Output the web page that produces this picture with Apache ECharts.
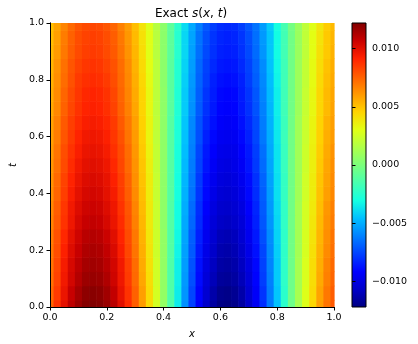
<!DOCTYPE html>
<html>
<head>
<meta charset="utf-8">
<script src="https://cdn.jsdelivr.net/npm/echarts@6/dist/echarts.min.js"></script>
<style>
  html, body { margin: 0; padding: 0; background: #fff; }
  #chart { width: 418px; height: 344px; }
</style>
</head>
<body>
<div id="chart"></div>
<script>
// sample grid: x across, t up
const xs = [0.000, 0.025, 0.050, 0.075, 0.100, 0.125, 0.150, 0.175, 0.200, 0.225,
            0.250, 0.275, 0.300, 0.325, 0.350, 0.375, 0.400, 0.425, 0.450, 0.475,
            0.500, 0.525, 0.550, 0.575, 0.600, 0.625, 0.650, 0.675, 0.700, 0.725,
            0.750, 0.775, 0.800, 0.825, 0.850, 0.875, 0.900, 0.925, 0.950, 0.975, 1.000];
const ts = [0.00, 0.05, 0.10, 0.15, 0.20, 0.25, 0.30, 0.35, 0.40, 0.45, 0.50,
            0.55, 0.60, 0.65, 0.70, 0.75, 0.80, 0.85, 0.90, 0.95, 1.00];

// s(x, t), in units of 1e-4, one row per t
const s_000 = [74, 87, 99, 109, 116, 121, 122, 121, 117, 110, 100, 89, 76, 60, 43, 26, 7, -13, -35, -57, -76, -93, -106, -115, -121, -122, -120, -115, -106, -95, -81, -63, -45, -24, -4, 13, 29, 44, 59, 70, 77];
const s_005 = [73, 85, 97, 107, 114, 119, 120, 119, 115, 108, 98, 87, 75, 59, 43, 26, 7, -13, -35, -56, -75, -91, -104, -113, -119, -120, -118, -113, -104, -93, -79, -62, -44, -24, -4, 13, 29, 43, 58, 69, 76];
const s_010 = [71, 83, 95, 104, 111, 116, 117, 116, 112, 105, 96, 85, 73, 57, 42, 25, 7, -13, -34, -55, -73, -89, -102, -110, -116, -117, -115, -110, -102, -91, -77, -61, -43, -23, -4, 13, 28, 42, 56, 67, 74];
const s_015 = [70, 82, 94, 103, 109, 114, 115, 114, 110, 104, 95, 84, 72, 56, 41, 25, 7, -13, -34, -54, -72, -88, -100, -108, -114, -115, -113, -108, -100, -90, -76, -60, -43, -23, -4, 13, 28, 42, 55, 66, 73];
const s_020 = [69, 80, 92, 101, 107, 112, 113, 112, 108, 102, 93, 82, 70, 55, 40, 24, 7, -12, -33, -53, -70, -86, -98, -106, -112, -113, -111, -106, -98, -88, -75, -59, -42, -23, -3, 12, 27, 41, 54, 64, 71];
const s_025 = [68, 79, 90, 99, 105, 110, 111, 110, 106, 100, 91, 81, 69, 54, 39, 24, 7, -12, -32, -52, -69, -84, -96, -104, -110, -111, -109, -104, -96, -86, -73, -58, -41, -23, -3, 12, 27, 40, 53, 63, 70];
const s_030 = [66, 77, 87, 96, 103, 107, 108, 107, 103, 97, 89, 79, 67, 53, 38, 23, 6, -12, -31, -51, -67, -82, -94, -102, -107, -108, -106, -102, -94, -84, -71, -56, -40, -22, -3, 12, 26, 39, 52, 62, 68];
const s_035 = [65, 76, 86, 95, 101, 105, 106, 105, 101, 96, 87, 78, 66, 52, 38, 23, 6, -12, -31, -50, -66, -81, -92, -100, -105, -106, -104, -100, -92, -83, -70, -55, -39, -22, -3, 12, 26, 38, 51, 61, 67];
const s_040 = [63, 74, 84, 93, 99, 103, 104, 103, 99, 94, 85, 76, 64, 51, 37, 22, 6, -11, -30, -49, -64, -79, -90, -98, -103, -104, -102, -98, -90, -81, -69, -54, -38, -21, -3, 11, 25, 37, 50, 59, 65];
const s_045 = [62, 73, 83, 91, 97, 101, 102, 101, 98, 92, 84, 75, 63, 50, 37, 22, 6, -11, -30, -48, -63, -78, -89, -96, -101, -102, -100, -96, -89, -80, -68, -53, -38, -21, -3, 11, 25, 37, 49, 58, 64];
const s_050 = [61, 71, 81, 89, 95, 99, 100, 99, 96, 90, 82, 73, 62, 49, 36, 21, 6, -11, -29, -47, -62, -76, -87, -94, -99, -100, -98, -94, -87, -78, -66, -52, -37, -20, -3, 11, 24, 36, 48, 57, 63];
const s_055 = [60, 70, 80, 87, 93, 97, 98, 97, 94, 88, 81, 72, 61, 48, 35, 21, 6, -11, -29, -46, -61, -75, -86, -92, -97, -98, -97, -92, -86, -77, -65, -51, -37, -20, -3, 11, 24, 36, 47, 56, 62];
const s_060 = [59, 68, 78, 85, 91, 95, 96, 95, 92, 86, 79, 70, 60, 47, 34, 20, 6, -11, -28, -45, -60, -73, -84, -90, -95, -96, -95, -90, -84, -75, -63, -50, -36, -19, -3, 11, 23, 35, 46, 55, 60];
const s_065 = [58, 67, 77, 84, 89, 93, 94, 93, 90, 85, 77, 69, 59, 46, 34, 20, 6, -11, -28, -44, -59, -72, -82, -88, -93, -94, -93, -88, -82, -74, -62, -49, -35, -19, -3, 11, 23, 34, 45, 54, 59];
const s_070 = [56, 65, 75, 82, 87, 91, 92, 91, 88, 83, 75, 67, 57, 45, 33, 19, 6, -10, -27, -43, -57, -70, -80, -86, -91, -92, -91, -86, -80, -72, -61, -48, -34, -18, -3, 10, 22, 33, 44, 52, 58];
const s_075 = [55, 64, 74, 81, 86, 90, 91, 90, 87, 82, 74, 66, 56, 45, 33, 19, 6, -10, -27, -43, -56, -69, -79, -85, -90, -91, -90, -85, -79, -71, -60, -47, -34, -18, -3, 10, 22, 33, 44, 52, 57];
const s_080 = [54, 63, 72, 79, 85, 88, 89, 88, 85, 80, 73, 65, 55, 44, 32, 19, 5, -10, -26, -42, -55, -68, -77, -84, -88, -89, -88, -84, -77, -69, -59, -46, -33, -18, -3, 10, 21, 32, 43, 51, 56];
const s_085 = [53, 62, 71, 78, 83, 86, 87, 86, 83, 79, 72, 64, 54, 43, 31, 19, 5, -10, -26, -41, -54, -67, -76, -82, -86, -87, -86, -82, -76, -68, -58, -45, -32, -18, -3, 10, 21, 32, 42, 50, 55];
const s_090 = [52, 60, 69, 76, 81, 84, 85, 84, 81, 77, 70, 62, 53, 42, 30, 18, 5, -9, -25, -40, -53, -65, -74, -80, -84, -85, -84, -80, -74, -66, -56, -44, -31, -17, -3, 9, 20, 31, 41, 48, 54];
const s_095 = [51, 59, 68, 75, 80, 83, 84, 83, 80, 76, 69, 61, 52, 41, 30, 18, 5, -9, -25, -40, -52, -64, -73, -79, -83, -84, -83, -79, -73, -65, -55, -44, -31, -17, -3, 9, 20, 31, 40, 48, 53];
const s_100 = [50, 58, 66, 73, 78, 81, 82, 81, 78, 74, 67, 60, 51, 40, 29, 17, 5, -9, -24, -39, -51, -62, -71, -77, -81, -82, -81, -77, -71, -64, -54, -43, -30, -16, -2, 9, 20, 30, 39, 47, 52];
const rows = [s_000, s_005, s_010, s_015, s_020, s_025, s_030, s_035, s_040, s_045, s_050,
              s_055, s_060, s_065, s_070, s_075, s_080, s_085, s_090, s_095, s_100];

const colorTicks = [-0.010, -0.005, 0.000, 0.005, 0.010];
const sMin = -0.0122, sMax = 0.0122;

// matplotlib "jet"
const jet = ['#000080', '#0000c8', '#0000ff', '#0040ff', '#0080ff', '#00bfff', '#14ffe2', '#48ffaf',
             '#7bff7b', '#afff48', '#e2ff14', '#ffd200', '#ff9700', '#ff5c00', '#ff2100', '#c80000', '#800000'];

const FONT = 'DejaVu Sans';
const dx = xs[1] - xs[0];
const dt = ts[1] - ts[0];

var cells = [];
for (let j = 0; j < ts.length; j++) {
    for (let i = 0; i < xs.length; i++) {
        cells.push([xs[i], ts[j], rows[j][i] * 1e-4]);
    }
}

function renderCell(params, api) {
    const x = api.value(0), t = api.value(1);
    const p0 = api.coord([Math.max(0, x - dx / 2), Math.min(1, t + dt / 2)]);
    const p1 = api.coord([Math.min(1, x + dx / 2), Math.max(0, t - dt / 2)]);
    return {
        type: 'rect',
        shape: { x: p0[0], y: p0[1], width: p1[0] - p0[0] + 0.6, height: p1[1] - p0[1] + 0.6 },
        style: { fill: api.visual('color') }
    };
}

function renderBar(params, api) {
    const p0 = api.coord([0, api.value(1)]);
    const p1 = api.coord([1, api.value(0)]);
    const stops = jet.map((c, i) => ({ offset: i / (jet.length - 1), color: c }));
    return {
        type: 'rect',
        shape: { x: p0[0], y: p0[1], width: p1[0] - p0[0], height: p1[1] - p0[1] },
        style: {
            fill: new echarts.graphic.LinearGradient(0, 1, 0, 0, stops),
            stroke: '#000', lineWidth: 1
        }
    };
}

function fmtColor(v) {
    const s = Math.abs(v).toFixed(3);
    return v < -1e-9 ? '\u2212' + s : s;
}

const tickLabel = { color: '#000', fontFamily: FONT, fontSize: 9.5 };
const frameLine = { show: true, lineStyle: { color: '#000', width: 1 } };
const titleText = { fontFamily: FONT, fontSize: 12, color: '#000' };

var dom = document.getElementById('chart');
var myChart = echarts.init(dom);

var option = {
    animation: false,
    backgroundColor: '#fff',
    title: {
        text: '{r|Exact }{i|s}{r|(}{i|x}{r|, }{i|t}{r|)}',
        left: 191,
        textAlign: 'center',
        top: 8,
        padding: 0,
        textStyle: {
            fontFamily: FONT, fontSize: 12, fontWeight: 'normal', color: '#000',
            rich: {
                r: titleText,
                i: Object.assign({ fontStyle: 'italic' }, titleText)
            }
        }
    },
    grid: [
        { left: 48, top: 23, width: 286, height: 284 },
        { left: 352, top: 23, width: 14, height: 284 }
    ],
    xAxis: [
        {
            type: 'value', gridIndex: 0, min: 0, max: 1, interval: 0.2, position: 'bottom', z: 10,
            axisLine: frameLine,
            axisTick: { show: true, length: 3.5, lineStyle: { color: '#000' } },
            axisLabel: Object.assign({ margin: 6, formatter: v => v.toFixed(1) }, tickLabel),
            splitLine: { show: false },
            name: 'x', nameLocation: 'middle', nameGap: 22,
            nameTextStyle: { fontFamily: FONT, fontSize: 10, fontStyle: 'italic', color: '#000' }
        },
        {
            type: 'value', gridIndex: 0, min: 0, max: 1, position: 'top', z: 10,
            axisLine: frameLine, axisTick: { show: false }, axisLabel: { show: false }, splitLine: { show: false }
        },
        { type: 'value', gridIndex: 1, min: 0, max: 1, show: false }
    ],
    yAxis: [
        {
            type: 'value', gridIndex: 0, min: 0, max: 1, interval: 0.2, position: 'left', z: 10,
            axisLine: frameLine,
            axisTick: { show: true, length: 3.5, lineStyle: { color: '#000' } },
            axisLabel: Object.assign({ margin: 6, formatter: v => v.toFixed(1) }, tickLabel),
            splitLine: { show: false },
            name: 't', nameLocation: 'middle', nameGap: 25, nameRotate: 90,
            nameTextStyle: { fontFamily: FONT, fontSize: 10, fontStyle: 'italic', color: '#000' }
        },
        {
            type: 'value', gridIndex: 0, min: 0, max: 1, position: 'right', z: 10,
            axisLine: frameLine, axisTick: { show: false }, axisLabel: { show: false }, splitLine: { show: false }
        },
        {
            type: 'value', gridIndex: 1, min: sMin, max: sMax, position: 'right', z: 10,
            axisLine: { show: false },
            axisTick: { show: true, length: 3.5, lineStyle: { color: '#000' }, customValues: colorTicks },
            axisLabel: Object.assign({ margin: 6, formatter: fmtColor, customValues: colorTicks }, tickLabel),
            splitLine: { show: false }
        }
    ],
    visualMap: {
        show: false,
        type: 'continuous',
        min: sMin,
        max: sMax,
        dimension: 2,
        seriesIndex: 0,
        inRange: { color: jet }
    },
    series: [
        {
            type: 'custom',
            xAxisIndex: 0,
            yAxisIndex: 0,
            renderItem: renderCell,
            data: cells,
            silent: true
        },
        {
            type: 'custom',
            xAxisIndex: 2,
            yAxisIndex: 2,
            renderItem: renderBar,
            data: [[sMin, sMax]],
            silent: true
        }
    ]
};

if (option && typeof option === 'object') {
    myChart.setOption(option);
}
window.addEventListener('resize', myChart.resize);
</script>
</body>
</html>
